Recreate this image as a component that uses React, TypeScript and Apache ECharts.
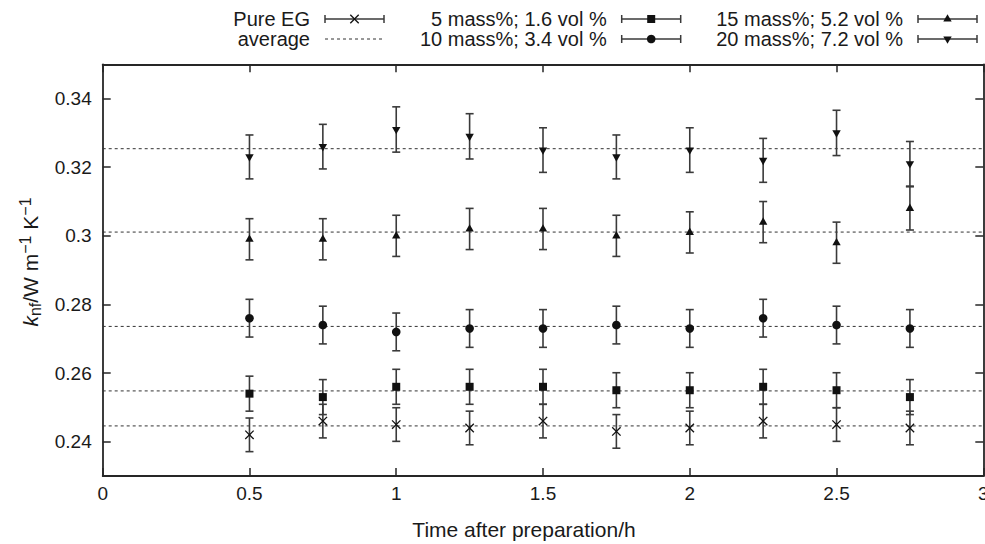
import React, { useEffect, useRef } from 'react';
import * as echarts from 'echarts';

// ---------- data ----------
const times = [0.5, 0.75, 1, 1.25, 1.5, 1.75, 2, 2.25, 2.5, 2.75];

const pureEG = [0.242, 0.246, 0.245, 0.244, 0.246, 0.243, 0.244, 0.246, 0.245, 0.244];
const pureEGErr = [0.0049, 0.0049, 0.0049, 0.0049, 0.0049, 0.0049, 0.0049, 0.0049, 0.0049, 0.0049];

const mass5 = [0.254, 0.253, 0.256, 0.256, 0.256, 0.255, 0.255, 0.256, 0.255, 0.253];
const mass5Err = [0.0051, 0.0051, 0.0051, 0.0051, 0.0051, 0.0051, 0.0051, 0.0051, 0.0051, 0.0051];

const mass10 = [0.276, 0.274, 0.272, 0.273, 0.273, 0.274, 0.273, 0.276, 0.274, 0.273];
const mass10Err = [0.0055, 0.0055, 0.0055, 0.0055, 0.0055, 0.0055, 0.0055, 0.0055, 0.0055, 0.0055];

const mass15 = [0.299, 0.299, 0.3, 0.302, 0.302, 0.3, 0.301, 0.304, 0.298, 0.308];
const mass15Err = [0.006, 0.006, 0.006, 0.006, 0.006, 0.006, 0.006, 0.006, 0.006, 0.0063];

const mass20 = [0.323, 0.326, 0.331, 0.329, 0.325, 0.323, 0.325, 0.322, 0.33, 0.321];
const mass20Err = [0.0064, 0.0065, 0.0066, 0.0066, 0.0065, 0.0064, 0.0065, 0.0064, 0.0066, 0.0065];

const averages = [0.2446, 0.2548, 0.2736, 0.3011, 0.3254];
const averageSpan = [0, 3];

const seriesNames = [
  'Pure EG',
  '5 mass%; 1.6 vol %',
  '10 mass%; 3.4 vol %',
  '15 mass%; 5.2 vol %',
  '20 mass%; 7.2 vol %',
];
const markers = ['cross', 'square', 'circle', 'triUp', 'triDown'];
const seriesValues = [pureEG, mass5, mass10, mass15, mass20];
const seriesErrors = [pureEGErr, mass5Err, mass10Err, mass15Err, mass20Err];

const yTicks = [0.24, 0.26, 0.28, 0.3, 0.32, 0.34];
const xTitle = 'Time after preparation/h';
const averageLabel = 'average';

// ---------- styles ----------
const FONT = '"Liberation Sans", Arial, Helvetica, sans-serif';
const TXT = '#1a1a1a';
const AX = '#262626';
const BAR = '#3a3a3a';
const MK = '#111111';

function markerShape(kind: string, x: number, y: number): any {
  const s = 4.2;
  if (kind === 'cross') {
    const st = { stroke: MK, lineWidth: 1.3 };
    return {
      type: 'group',
      children: [
        { type: 'line', shape: { x1: x - s, y1: y - s, x2: x + s, y2: y + s }, style: st },
        { type: 'line', shape: { x1: x + s, y1: y - s, x2: x - s, y2: y + s }, style: st },
      ],
    };
  }
  if (kind === 'square') {
    return { type: 'rect', shape: { x: x - 4, y: y - 4, width: 8, height: 8 }, style: { fill: MK } };
  }
  if (kind === 'circle') {
    return { type: 'circle', shape: { cx: x, cy: y, r: 4.3 }, style: { fill: MK } };
  }
  if (kind === 'triUp') {
    return {
      type: 'polygon',
      shape: { points: [[x, y - 4.8], [x + 4.2, y + 2.6], [x - 4.2, y + 2.6]] },
      style: { fill: MK },
    };
  }
  return {
    type: 'polygon',
    shape: { points: [[x - 4.2, y - 2.6], [x + 4.2, y - 2.6], [x, y + 4.8]] },
    style: { fill: MK },
  };
}

function makeRenderItem(kind: string) {
  return (_params: any, api: any) => {
    const x = api.value(0);
    const y = api.value(1);
    const e = api.value(2);
    const c = api.coord([x, y]);
    const t = api.coord([x, y + e]);
    const b = api.coord([x, y - e]);
    const cap = 4;
    const ls = { stroke: BAR, lineWidth: 1.6 };
    return {
      type: 'group',
      children: [
        { type: 'line', shape: { x1: c[0], y1: t[1], x2: c[0], y2: b[1] }, style: ls },
        { type: 'line', shape: { x1: c[0] - cap, y1: t[1], x2: c[0] + cap, y2: t[1] }, style: ls },
        { type: 'line', shape: { x1: c[0] - cap, y1: b[1], x2: c[0] + cap, y2: b[1] }, style: ls },
        markerShape(kind, c[0], c[1]),
      ],
    };
  };
}

function legendGraphics(): any[] {
  const colStart = [325, 621.7, 918];
  const sampleLen = 59;
  const rows = [19, 39];
  const layout = [
    { row: 0, col: 0, idx: 0 },
    { row: 0, col: 1, idx: 1 },
    { row: 0, col: 2, idx: 3 },
    { row: 1, col: 1, idx: 2 },
    { row: 1, col: 2, idx: 4 },
  ];
  const out: any[] = [];
  const ls = { stroke: BAR, lineWidth: 1.5 };
  layout.forEach(({ row, col, idx }) => {
    const x0 = colStart[col];
    const x1 = x0 + sampleLen;
    const y = rows[row];
    out.push({
      type: 'text',
      x: x0 - 15,
      y,
      style: { text: seriesNames[idx], fontSize: 20, fontFamily: FONT, fill: TXT, align: 'right', verticalAlign: 'middle' },
    });
    out.push({ type: 'line', shape: { x1: x0, y1: y, x2: x1, y2: y }, style: ls });
    out.push({ type: 'line', shape: { x1: x0, y1: y - 4, x2: x0, y2: y + 4 }, style: ls });
    out.push({ type: 'line', shape: { x1: x1, y1: y - 4, x2: x1, y2: y + 4 }, style: ls });
    out.push(markerShape(markers[idx], (x0 + x1) / 2, y));
  });
  const ax0 = colStart[0];
  out.push({
    type: 'text',
    x: ax0 - 15,
    y: rows[1],
    style: { text: averageLabel, fontSize: 20, fontFamily: FONT, fill: TXT, align: 'right', verticalAlign: 'middle' },
  });
  out.push({
    type: 'line',
    shape: { x1: ax0, y1: rows[1], x2: ax0 + sampleLen, y2: rows[1] },
    style: { stroke: '#333', lineWidth: 1, lineDash: [3, 3] },
  });
  return out;
}

export default function App() {
  const ref = useRef<HTMLDivElement>(null);

  useEffect(() => {
    document.body.style.margin = '0';
    if (!ref.current) return;
    const chart = echarts.init(ref.current, undefined, { renderer: 'svg' });

    const axisLine = { show: true, onZero: false, lineStyle: { color: AX, width: 1.8 } };
    const tick = { show: true, inside: true, length: 8, lineStyle: { color: AX, width: 1.5 } };

    const avgSeries: any[] = averages.map((avg, i) => ({
      name: seriesNames[i] + ' average',
      type: 'line',
      xAxisIndex: 0,
      yAxisIndex: 0,
      silent: true,
      symbol: 'none',
      data: averageSpan.map((x) => [x, avg]),
      lineStyle: { type: [3, 3], color: '#333', width: 1 },
      z: 1,
    }));

    const barSeries: any[] = seriesNames.map((name, i) => ({
      name,
      type: 'custom',
      xAxisIndex: 0,
      yAxisIndex: 0,
      renderItem: makeRenderItem(markers[i]),
      encode: { x: 0, y: 1 },
      data: times.map((t, j) => [t, seriesValues[i][j], seriesErrors[i][j]]),
      z: 3,
    }));

    const option: any = {
      animation: false,
      grid: {
        left: 102.7,
        right: 1.7,
        top: 64.3,
        bottom: 68,
        containLabel: false,
        outerBoundsMode: 'none',
      },
      xAxis: [
        {
          type: 'value',
          position: 'bottom',
          min: 0,
          max: 3,
          interval: 0.5,
          axisLine,
          axisTick: tick,
          axisLabel: { fontSize: 19, fontFamily: FONT, color: TXT, margin: 8, showMinLabel: true, showMaxLabel: true },
          splitLine: { show: false },
        },
        {
          type: 'value',
          position: 'top',
          min: 0,
          max: 3,
          interval: 0.5,
          axisLine,
          axisTick: tick,
          axisLabel: { show: false },
          splitLine: { show: false },
        },
      ],
      yAxis: [
        {
          type: 'value',
          position: 'left',
          min: 0.23,
          max: 0.35,
          axisLine,
          axisTick: { ...tick, customValues: yTicks },
          axisLabel: {
            customValues: yTicks,
            fontSize: 19,
            fontFamily: FONT,
            color: TXT,
            margin: 11,
            formatter: (v: number) => String(Number(v.toFixed(2))),
          },
          splitLine: { show: false },
        },
        {
          type: 'value',
          position: 'right',
          min: 0.23,
          max: 0.35,
          axisLine,
          axisTick: { ...tick, customValues: yTicks },
          axisLabel: { show: false },
          splitLine: { show: false },
        },
      ],
      series: [...avgSeries, ...barSeries],
      graphic: [
        ...legendGraphics(),
        {
          type: 'text',
          x: 524,
          y: 529,
          style: { text: xTitle, fontSize: 21, fontFamily: FONT, fill: TXT, align: 'center', verticalAlign: 'middle' },
        },
        {
          type: 'text',
          x: 30,
          y: 262,
          rotation: Math.PI / 2,
          style: {
            text: '{k|k}{sub|nf}{n|/W m}{sup|\u22121}{n| K}{sup|\u22121}',
            align: 'center',
            verticalAlign: 'middle',
            fill: TXT,
            fontFamily: FONT,
            fontSize: 21,
            rich: {
              k: { fontSize: 21, fontStyle: 'italic', fontFamily: FONT, fill: TXT, lineHeight: 26, verticalAlign: 'middle' },
              n: { fontSize: 21, fontFamily: FONT, fill: TXT, lineHeight: 26, verticalAlign: 'middle' },
              sub: { fontSize: 16, fontFamily: FONT, fill: TXT, lineHeight: 12, verticalAlign: 'bottom' },
              sup: { fontSize: 16, fontFamily: FONT, fill: TXT, lineHeight: 12, verticalAlign: 'top' },
            },
          },
        },
      ],
    };

    chart.setOption(option);
    return () => chart.dispose();
  }, []);

  return <div ref={ref} style={{ width: 985, height: 544 }} />;
}
